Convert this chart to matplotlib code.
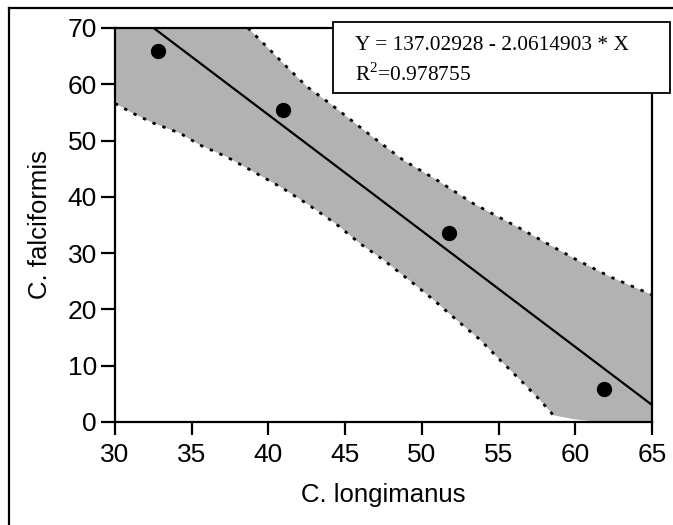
import matplotlib
matplotlib.use('Agg')
import matplotlib.pyplot as plt
from matplotlib.lines import Line2D
from matplotlib.patches import Rectangle
import numpy as np

plt.rcParams['mathtext.fontset'] = 'custom'
plt.rcParams['mathtext.rm'] = 'Liberation Serif'

# points
x_pts = [32.8, 40.95, 51.8, 61.85]
y_pts = [65.9, 55.4, 33.6, 5.9]

# regression shown in the box
a, b = 137.02928, -2.0614903
r2 = 0.978755

# band edges
up_x = [38.67, 39.88, 41.19, 42.5, 44.0, 46.62, 48.8, 50.97, 53.36, 56.4, 58.5, 60.1, 62.27, 65.0]
up_y = [70.0, 66.7, 63.1, 59.6, 56.6, 51.0, 46.5, 43.0, 38.8, 34.4, 31.2, 28.8, 25.8, 22.6]
lo_x = [30.0, 31.2, 32.5, 34.24, 35.54, 37.28, 38.8, 40.76, 42.5, 44.4, 45.97, 47.49,
        49.45, 50.76, 52.27, 53.8, 55.1, 56.4, 57.7, 58.57]
lo_y = [56.6, 54.8, 53.1, 51.3, 49.2, 47.1, 44.8, 41.8, 38.8, 35.2, 31.7, 28.8,
        24.6, 21.7, 18.1, 14.6, 11.0, 7.5, 3.9, 1.2]
# where the lower edge runs below the axis (fill only)
lo_tail_x = [59.9, 61.6, 65.0]
lo_tail_y = [0.5, 0.0, 0.0]

fig = plt.figure(figsize=(6.73, 5.25), dpi=100)
ax = fig.add_axes([0.1709, 0.1962, 0.7979, 0.7505])

# shaded band
px = [30.0] + up_x + lo_tail_x[::-1] + lo_x[::-1]
py = [70.0] + up_y + lo_tail_y[::-1] + lo_y[::-1]
ax.fill(px, py, facecolor='#b2b2b2', edgecolor='none', zorder=1)
ax.plot(up_x, up_y, color='black', lw=2, ls=(0, (1.2, 2.6)), zorder=2)
ax.plot(lo_x, lo_y, color='black', lw=2, ls=(0, (1.2, 2.6)), zorder=2)

# fitted line
xl = np.array([30.0, 65.0])
ax.plot(xl, a + b * xl, color='black', lw=1.6, zorder=3)

ax.plot(x_pts, y_pts, 'o', color='black', ms=10, zorder=4)

ax.set_xlim(30, 65)
ax.set_ylim(0, 70)
ax.set_xticks(range(30, 66, 5))
ax.set_yticks(range(0, 71, 10))

for s in ax.spines.values():
    s.set_linewidth(1.6)
ax.tick_params(axis='both', direction='out', width=1.6, labelsize=19, colors='black')
ax.tick_params(axis='y', length=10, pad=3)
ax.tick_params(axis='x', length=9, pad=6)
for lab in ax.get_xticklabels() + ax.get_yticklabels():
    lab.set_family('Liberation Sans')

ax.set_xlabel('C. longimanus', fontsize=18.5, family='Liberation Sans', labelpad=12)
ax.set_ylabel('C. falciformis', fontsize=18.5, family='Liberation Sans', labelpad=11)

# equation box
W, H = 673.0, 525.0
fig.add_artist(Rectangle((333 / W, 1 - 93 / H), (670 - 333) / W, (93 - 22) / H,
                         transform=fig.transFigure, facecolor='white',
                         edgecolor='black', lw=1.3, zorder=10))
fig.text(355 / W, 1 - 46 / H, 'Y = %.5f - %.7f * X' % (a, -b), fontsize=15.4,
         family='Liberation Serif', va='center', zorder=11)
fig.text(355 / W, 1 - 74 / H, r'R$^{2}$=%.6f' % r2, fontsize=15.4,
         family='Liberation Serif', va='center', zorder=11)

# outer frame (top and left edges only)
fig.add_artist(Line2D([9 / W, 1.0], [1 - 8 / H, 1 - 8 / H], transform=fig.transFigure,
                      color='black', lw=1.6))
fig.add_artist(Line2D([9 / W, 9 / W], [0.0, 1 - 8 / H], transform=fig.transFigure,
                      color='black', lw=1.6))

fig.savefig('out.png', dpi=100)
